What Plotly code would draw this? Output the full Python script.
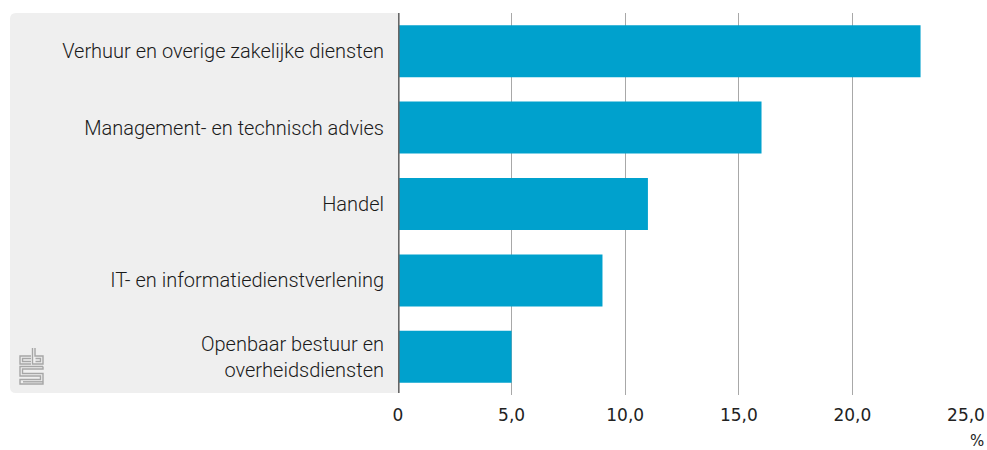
import plotly.graph_objects as go

categories = [
    "Verhuur en overige zakelijke diensten",
    "Management- en technisch advies",
    "Handel",
    "IT- en informatiedienstverlening",
    "Openbaar bestuur en<br>overheidsdiensten",
]
values = [23.0, 16.0, 11.0, 9.0, 5.0]
tick_vals = [0, 5, 10, 15, 20, 25]
tick_text = ["0", "5,0", "10,0", "15,0", "20,0", "25,0"]

W, H = 987, 450
L, R, T, B = 398, 21, 13, 55
PW = W - L - R
PH = H - T - B


def px(x):
    return (x - L) / PW


def py(y):
    return (H - B - y) / PH


def path(points, close=False):
    s = "M " + " L ".join(f"{px(x):.5f},{py(y):.5f}" for x, y in points)
    return s + (" Z" if close else "")


fig = go.Figure(
    go.Bar(
        x=values,
        y=categories,
        orientation="h",
        marker=dict(color="#00a1cd", line=dict(width=0)),
        hoverinfo="x+y",
    )
)

# rounded grey panel behind category labels
x0, x1, y0, y1, r = 10, 398, 13, 393, 6
panel = (
    f"M {px(x0 + r)},{py(y0)} L {px(x1)},{py(y0)} L {px(x1)},{py(y1)} "
    f"L {px(x0 + r)},{py(y1)} Q {px(x0)},{py(y1)} {px(x0)},{py(y1 - r)} "
    f"L {px(x0)},{py(y0 + r)} Q {px(x0)},{py(y0)} {px(x0 + r)},{py(y0)} Z"
)
shapes = [
    dict(type="path", xref="paper", yref="paper", path=panel,
         fillcolor="#efefef", line=dict(width=0), layer="below"),
    dict(type="line", xref="x", yref="paper", x0=0, x1=0,
         y0=py(393), y1=1, line=dict(color="#666666", width=3.2), layer="above"),
]

logo_col = "#a6a6a6"
logo_paths = [
    # c
    [(31, 356), (20, 356), (20, 364), (31, 364)],
    [(31, 358.5), (22.5, 358.5), (22.5, 361.5), (31, 361.5)],
    # b
    [(32.5, 348), (32.5, 364), (43, 364), (43, 356), (35, 356), (35, 348)],
    [(35.5, 358.5), (40.5, 358.5), (40.5, 361.5), (35.5, 361.5)],
    # S
    [(43, 366.5), (20, 366.5), (20, 376), (40.5, 376), (40.5, 379.5),
     (20, 379.5), (20, 384), (43, 384), (43, 373.5), (22.5, 373.5),
     (22.5, 369), (43, 369), (43, 366.5)],
    [(23, 381.8), (43, 381.8)],
]
for p in logo_paths:
    shapes.append(dict(type="path", xref="paper", yref="paper", path=path(p),
                       line=dict(color=logo_col, width=1.4), layer="above"))

fig.update_layout(
    width=W,
    height=H,
    margin=dict(l=L, r=R, t=T, b=B, pad=0, autoexpand=False),
    paper_bgcolor="white",
    plot_bgcolor="rgba(0,0,0,0)",
    bargap=0.32,
    showlegend=False,
    shapes=shapes,
    font=dict(family="Roboto", color="#222222"),
    xaxis=dict(
        range=[0, 25],
        tickvals=tick_vals,
        ticktext=tick_text,
        showgrid=True,
        gridcolor="#a8a8a8",
        gridwidth=1,
        zeroline=False,
        showline=False,
        ticks="",
        automargin=False,
        tickfont=dict(family="DejaVu Sans", size=17, color="#222222"),
        ticklabelstandoff=8,
    ),
    yaxis=dict(
        autorange="reversed",
        showgrid=False,
        zeroline=False,
        showline=False,
        ticks="",
        automargin=False,
        tickfont=dict(family="Roboto", size=20, color="#1a1a1a", weight=300),
        ticklabelstandoff=13,
    ),
    annotations=[
        dict(text="%", xref="paper", yref="paper", x=px(977), y=py(441),
             xanchor="center", yanchor="middle", showarrow=False,
             font=dict(family="DejaVu Sans", size=15, color="#222222")),
    ],
)

fig.write_html(
    "out.html",
    config={"displayModeBar": False},
    post_script="document.body.style.margin='0';document.body.style.overflow='hidden';",
)
